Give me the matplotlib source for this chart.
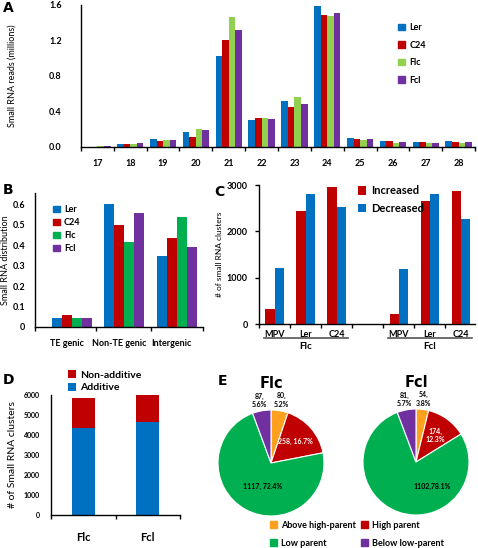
import numpy as np
import matplotlib
matplotlib.use('Agg')
import matplotlib.pyplot as plt
from matplotlib.patches import Patch

plt.rcParams['font.family'] = ['Lato', 'DejaVu Sans']
plt.rcParams['font.weight'] = 'bold'

# ---- data ----
sizes = ['17', '18', '19', '20', '21', '22', '23', '24', '25', '26', '27', '28']
a_ler = [0.005, 0.03, 0.09, 0.17, 1.02, 0.30, 0.52, 1.59, 0.10, 0.07, 0.06, 0.07]
a_c24 = [0.005, 0.03, 0.07, 0.115, 1.20, 0.325, 0.45, 1.49, 0.09, 0.07, 0.06, 0.06]
a_flc = [0.01, 0.03, 0.08, 0.20, 1.47, 0.33, 0.56, 1.48, 0.075, 0.05, 0.045, 0.05]
a_fcl = [0.01, 0.04, 0.08, 0.19, 1.32, 0.315, 0.49, 1.515, 0.09, 0.055, 0.05, 0.06]

b_cats = ['TE genic', 'Non-TE genic', 'Intergenic']
b_ler = [0.043, 0.60, 0.35]
b_c24 = [0.058, 0.50, 0.435]
b_flc = [0.042, 0.415, 0.537]
b_fcl = [0.045, 0.56, 0.39]

c_sub = ['MPV', 'Ler', 'C24', 'MPV', 'Ler', 'C24']
c_groups = ['Flc', 'Fcl']
c_inc = [330, 2440, 2960, 210, 2655, 2880]
c_dec = [1200, 2815, 2535, 1180, 2815, 2275]

d_cats = ['Flc', 'Fcl']
d_add = [4360, 4670]
d_nonadd = [1500, 1310]

e_labels = ['Above high-parent', 'High parent', 'Low parent', 'Below low-parent']
e_flc = [80, 258, 1117, 87]
e_flc_txt = ['80,\n5.2%', '258, 16.7%', '1117, 72.4%', '87,\n5.6%']
e_fcl = [54, 174, 1102, 81]
e_fcl_txt = ['54,\n3.8%', '174,\n12.3%', '1102,78.1%', '81,\n5.7%']

BLUE = '#0070C0'
RED = '#C00000'
LGREEN = '#92D050'
GREEN = '#00B050'
PURPLE = '#7030A0'
ORANGE = '#FFA01E'

W, H = 478, 548
fig = plt.figure(figsize=(W / 100, H / 100), dpi=100)

def ax_px(l, t, r, b):
    return fig.add_axes([l / W, 1 - b / H, (r - l) / W, (b - t) / H])

def style(ax, ypad=3):
    for s in ['top', 'right']:
        ax.spines[s].set_visible(False)
    ax.tick_params(labelsize=6.5, length=3, width=1)
    ax.tick_params(axis='y', pad=ypad)
    ax.tick_params(axis='x', which='major', length=0)
    ax.tick_params(axis='x', which='minor', length=3, width=1)
    for s in ['left', 'bottom']:
        ax.spines[s].set_linewidth(1)

# ---- A ----
axA = ax_px(81, 5, 475, 147)
x = np.arange(len(sizes))
for i, (vals, c) in enumerate(zip([a_ler, a_c24, a_flc, a_fcl], [BLUE, RED, LGREEN, PURPLE])):
    axA.bar(x + (i - 1.5) * 0.2, vals, 0.2, color=c)
axA.set_xlim(-0.5, len(sizes) - 0.5)
axA.set_ylim(0, 1.6)
axA.set_yticks([0, 0.4, 0.8, 1.2, 1.6])
axA.set_yticklabels(['0.0', '0.4', '0.8', '1.2', '1.6'])
axA.set_xticks(x)
axA.set_xticklabels(sizes)
axA.set_xticks(np.arange(-0.5, len(sizes)), minor=True)
style(axA, ypad=14)
axA.tick_params(axis='y', length=0)
axA.tick_params(axis='x', pad=9)
axA.set_ylabel('Small RNA reads (millions)', fontsize=6.5, fontweight='normal', labelpad=23)
axA.legend(handles=[Patch(color=c, label=l) for c, l in
                    zip([BLUE, RED, LGREEN, PURPLE], ['Ler', 'C24', 'Flc', 'Fcl'])],
           loc='upper left', bbox_to_anchor=(0.785, 0.93), frameon=False, fontsize=6.5,
           handlelength=0.7, handleheight=0.7, labelspacing=0.95, handletextpad=0.5)

# ---- B ----
axB = ax_px(35, 193, 203, 327)
xb = np.arange(len(b_cats))
for i, (vals, c) in enumerate(zip([b_ler, b_c24, b_flc, b_fcl], [BLUE, RED, GREEN, PURPLE])):
    axB.bar(xb + (i - 1.5) * 0.19, vals, 0.19, color=c)
axB.set_xlim(-0.7, 2.5)
axB.set_ylim(0, 0.656)
axB.set_yticks([0, 0.1, 0.2, 0.3, 0.4, 0.5, 0.6])
axB.set_yticklabels(['0', '0.1', '0.2', '0.3', '0.4', '0.5', '0.6'])
axB.set_xticks(xb - 0.1)
axB.set_xticklabels(b_cats)
axB.set_xticks([-0.7, 0.46, 1.5, 2.5], minor=True)
style(axB, ypad=7)
axB.tick_params(axis='y', length=0)
axB.tick_params(axis='x', pad=9)
axB.set_ylabel('Small RNA distribution', fontsize=6.5, fontweight='normal', labelpad=2)
axB.legend(handles=[Patch(color=c, label=l) for c, l in
                    zip([BLUE, RED, GREEN, PURPLE], ['Ler', 'C24', 'Flc', 'Fcl'])],
           loc='upper left', bbox_to_anchor=(0.06, 0.97), frameon=False, fontsize=6.5,
           handlelength=0.7, handleheight=0.7, labelspacing=0.45, handletextpad=0.5)

# ---- C ----
axC = ax_px(259, 185, 475, 324)
xc = np.array([0, 1, 2, 4, 5, 6])
axC.bar(xc - 0.15, c_inc, 0.3, color=RED, label='Increased')
axC.bar(xc + 0.15, c_dec, 0.3, color=BLUE, label='Decreased')
axC.set_xlim(-0.5, 6.45)
axC.set_ylim(0, 3000)
axC.set_yticks([0, 1000, 2000, 3000])
axC.set_xticks(xc)
axC.set_xticklabels(c_sub)
axC.set_xticks([-0.5, 0.5, 1.5, 2.5, 3.5, 4.5, 5.5], minor=True)
style(axC, ypad=5)
axC.tick_params(axis='x', pad=4)
axC.set_ylabel('# of small RNA clusters', fontsize=6, fontweight='normal', labelpad=3)
for gx, g in zip([1, 5], c_groups):
    axC.plot([gx - 1.35, gx + 1.35], [-300, -300], color='#555555', lw=1.2, clip_on=False)
    axC.text(gx, -380, g, ha='center', va='top', fontsize=7)
axC.legend(loc='upper left', bbox_to_anchor=(0.41, 1.07), frameon=False, fontsize=8,
           handlelength=0.8, handleheight=0.8, labelspacing=0.6, handletextpad=0.4)

# ---- D ----
axD = ax_px(51, 395, 180, 515)
xd = np.arange(len(d_cats))
axD.bar(xd, d_add, 0.35, color=BLUE, label='Additive')
axD.bar(xd, d_nonadd, 0.35, bottom=d_add, color=RED, label='Non-additive')
axD.set_xlim(-0.5, 1.5)
axD.set_ylim(0, 6000)
axD.set_yticks(range(0, 6001, 1000))
axD.set_xticks(xd)
axD.set_xticklabels(d_cats, fontsize=8)
axD.set_xticks([-0.5, 0.5, 1.5], minor=True)
style(axD, ypad=8)
axD.tick_params(axis='y', labelsize=5, length=0)
axD.tick_params(axis='x', pad=12, labelsize=8)
axD.set_ylabel('# of Small RNA clusters', fontsize=7.5, labelpad=5)
h, l = axD.get_legend_handles_labels()
axD.legend(h[::-1], l[::-1], loc='lower left', bbox_to_anchor=(0.08, 0.97), frameon=False,
           fontsize=7.5, handlelength=0.8, handleheight=0.8, labelspacing=0.3,
           handletextpad=0.4, borderpad=0.1)

# ---- E ----
pie_cols = [ORANGE, RED, GREEN, PURPLE]

def draw_pie(cx, cy, r, vals, txts, title, low_pos):
    ax = ax_px(cx - r, cy - r, cx + r, cy + r)
    wedges, _ = ax.pie(vals, colors=pie_cols, startangle=90, counterclock=False,
                       radius=1, wedgeprops=dict(linewidth=0.8, edgecolor='white'))
    ax.set_xlim(-1, 1)
    ax.set_ylim(-1, 1)
    ax.set_aspect('equal')
    ax.axis('off')
    ang = [(w.theta1 + w.theta2) / 2 for w in wedges]
    for i, (a, t) in enumerate(zip(ang, txts)):
        rad = np.deg2rad(a)
        col = 'black'
        if i in (0, 3):
            px, py = 1.22 * np.cos(rad), 1.2 * np.sin(rad)
        elif i == 1:
            px, py = 0.62 * np.cos(rad), 0.62 * np.sin(rad)
            col = 'white'
        else:
            px, py = low_pos
        ax.text(px, py, t, ha='center', va='center', fontsize=5, color=col, linespacing=1.3)
    ax.set_title(title, fontsize=10.5, pad=16, family='DejaVu Sans', fontweight='bold')
    return ax

draw_pie(271, 463, 53, e_flc, e_flc_txt, 'Flc', (-0.15, -0.45))
draw_pie(416, 462, 53, e_fcl, e_fcl_txt, 'Fcl', (0.3, -0.47))
order = [0, 2, 1, 3]
fig.legend(handles=[Patch(color=pie_cols[k], label=e_labels[k]) for k in order],
           loc='lower left', bbox_to_anchor=(262 / W, -0.014), ncol=2, frameon=False,
           fontsize=6.5, handlelength=0.8, handleheight=0.8, columnspacing=0.6,
           labelspacing=1.0, handletextpad=0.4)

# ---- panel letters ----
for lx, ly, t in [(3, 12, 'A'), (3, 194, 'B'), (214, 196, 'C'), (3, 384, 'D'), (218, 385, 'E')]:
    fig.text(lx / W, 1 - ly / H, t, fontsize=10, fontweight='bold', family='DejaVu Sans')

fig.savefig('out.png', dpi=100)
